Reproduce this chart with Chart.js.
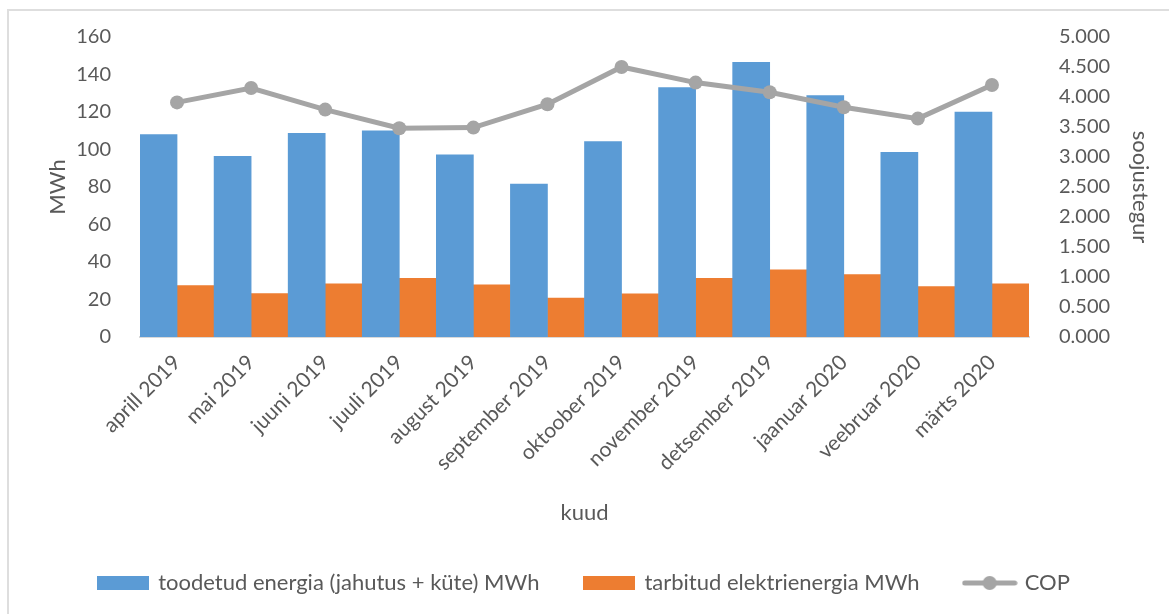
<!DOCTYPE html>
<html>
<head>
<meta charset="utf-8">
<script src="https://cdn.jsdelivr.net/npm/chart.js@4.4.1/dist/chart.umd.min.js"></script>
<style>
  html, body { margin: 0; padding: 0; background: #fff; }
  #wrap { position: relative; width: 1169px; height: 614px; overflow: hidden; }
  #frame { position: absolute; left: 7px; top: 9px; width: 1300px; height: 800px;
           border-left: 2px solid #dedede; border-top: 2px solid #dedede; }
  canvas { position: absolute; left: 0; top: 0; }
</style>
</head>
<body>
<div id="wrap">
  <div id="frame"></div>
  <canvas id="chart" width="1169" height="614"></canvas>
</div>
<script>
// kuude andmed
const months = [
  'aprill 2019', 'mai 2019', 'juuni 2019', 'juuli 2019', 'august 2019', 'september 2019',
  'oktoober 2019', 'november 2019', 'detsember 2019', 'jaanuar 2020', 'veebruar 2020', 'märts 2020',
];
const produced = [108, 96.3, 108.6, 110, 97.1, 81.6, 104.2, 133, 146.5, 128.8, 98.5, 120];
const consumed = [27.4, 23.1, 28.3, 31.3, 27.8, 20.8, 23, 31.3, 35.8, 33.3, 26.9, 28.3];
const cop = [3.91, 4.15, 3.79, 3.48, 3.49, 3.88, 4.50, 4.24, 4.08, 3.83, 3.64, 4.20];

const seriesNames = ['toodetud energia (jahutus + küte) MWh', 'tarbitud elektrienergia MWh', 'COP'];
const BLUE = '#5B9BD5';
const ORANGE = '#ED7D31';
const GREY = '#A5A5A5';
const TEXT = '#595959';
const FONT = 'Lato, "Open Sans", sans-serif';

// legendi märgid
function boxMarker(color) {
  const c = document.createElement('canvas');
  c.width = 52; c.height = 14;
  const g = c.getContext('2d');
  g.fillStyle = color;
  g.fillRect(0, 0, 52, 14);
  return c;
}
function lineMarker() {
  const c = document.createElement('canvas');
  c.width = 56; c.height = 16;
  const g = c.getContext('2d');
  g.strokeStyle = GREY;
  g.lineWidth = 5;
  g.lineCap = 'round';
  g.beginPath(); g.moveTo(3, 8); g.lineTo(53, 8); g.stroke();
  g.fillStyle = GREY;
  g.beginPath(); g.arc(28, 8, 7, 0, Math.PI * 2); g.fill();
  return c;
}
const markers = [boxMarker(BLUE), boxMarker(ORANGE), lineMarker()];

const ctx = document.getElementById('chart').getContext('2d');
new Chart(ctx, {
  type: 'bar',
  data: {
    labels: months,
    datasets: [
      {
        label: seriesNames[0],
        data: produced,
        backgroundColor: BLUE,
        borderWidth: 0,
        yAxisID: 'y',
        categoryPercentage: 1,
        barPercentage: 1,
      },
      {
        label: seriesNames[1],
        data: consumed,
        backgroundColor: ORANGE,
        borderWidth: 0,
        yAxisID: 'y',
        categoryPercentage: 1,
        barPercentage: 1,
      },
      {
        type: 'line',
        label: seriesNames[2],
        data: cop,
        borderColor: GREY,
        backgroundColor: GREY,
        borderWidth: 5,
        pointRadius: 7,
        pointBorderWidth: 0,
        pointBackgroundColor: GREY,
        tension: 0,
        yAxisID: 'y1',
        order: -1,
      },
    ],
  },
  options: {
    responsive: false,
    animation: false,
    devicePixelRatio: 1,
    layout: { padding: { top: 37, left: 0, right: 0, bottom: 10 } },
    scales: {
      x: {
        grid: { display: false },
        border: { display: true, color: '#D9D9D9', width: 2 },
        ticks: { color: TEXT, font: { family: FONT, size: 21 }, maxRotation: 45, minRotation: 45, padding: 5 },
        title: { display: true, text: 'kuud', color: TEXT, font: { family: FONT, size: 22 }, padding: { top: 0, bottom: 0 } },
        afterFit: s => { s.height = 189; },
      },
      y: {
        position: 'left',
        min: 0,
        max: 160,
        grid: { display: false },
        border: { display: false },
        ticks: { stepSize: 20, color: TEXT, font: { family: FONT, size: 20 }, padding: 21 },
        title: { display: true, text: 'MWh', color: TEXT, font: { family: FONT, size: 22 }, padding: { top: 45, bottom: 4 } },
        afterFit: s => { s.width = 140; },
      },
      y1: {
        position: 'right',
        min: 0,
        max: 5,
        grid: { display: false },
        border: { display: false },
        ticks: { stepSize: 0.5, color: TEXT, font: { family: FONT, size: 20 }, padding: 22,
                 callback: v => v.toFixed(3) },
        title: { display: true, text: 'soojustegur', color: TEXT, font: { family: FONT, size: 22 }, padding: { top: 16, bottom: 4 } },
        afterFit: s => { s.width = 140; },
      },
    },
    plugins: {
      tooltip: { enabled: false },
      legend: {
        position: 'bottom',
        labels: {
          usePointStyle: true,
          pointStyleWidth: 48,
          boxHeight: 14,
          padding: 46,
          color: TEXT,
          font: { family: FONT, size: 22 },
          generateLabels: chart => seriesNames.map((name, i) => ({
            text: name,
            pointStyle: markers[i],
            fillStyle: i === 0 ? BLUE : i === 1 ? ORANGE : GREY,
            strokeStyle: 'transparent',
            lineWidth: 0,
            fontColor: TEXT,
            hidden: false,
            datasetIndex: i,
          })),
        },
      },
    },
  },
});
</script>
</body>
</html>
